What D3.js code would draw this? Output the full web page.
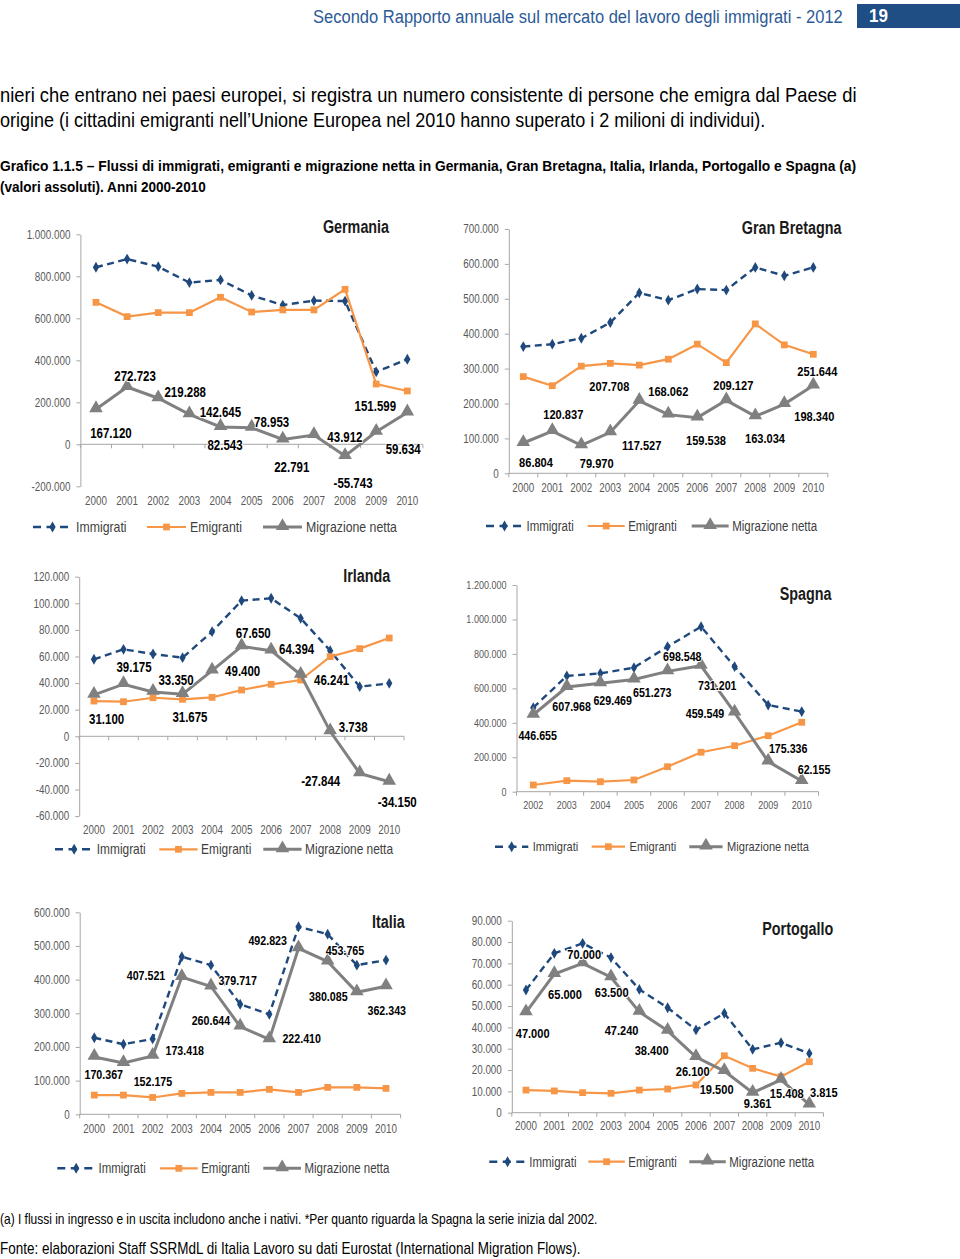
<!DOCTYPE html>
<html><head><meta charset="utf-8">
<script src="https://cdn.jsdelivr.net/npm/d3@7/dist/d3.min.js"></script>
<style>
html,body{margin:0;padding:0;background:#fff;}
svg{display:block;}
text{font-family:"Liberation Sans Narrow","Arial Narrow","Liberation Sans",Arial,sans-serif;}
</style></head>
<body><svg id="c" width="960" height="1259"></svg>
<script>
// ---------- DATA ----------
const years = ["2000","2001","2002","2003","2004","2005","2006","2007","2008","2009","2010"];
const yearsSpagna = ["2002","2003","2004","2005","2006","2007","2008","2009","2010"];
const seriesNames = ["Immigrati","Emigranti","Migrazione netta"];

const germaniaImmigrati = [843000,882000,846000,770000,783000,709000,663000,684000,682000,345000,405000];
const germaniaEmigranti = [676000,608000,627000,627000,700000,630000,640000,640000,738000,287000,254000];
const germaniaNetta = [167120,272723,219288,142645,82543,78953,22791,43912,-55743,59634,151599];
const germaniaTicks = [-200000,0,200000,400000,600000,800000,1000000];

const gbImmigrati = [363000,370000,387000,432000,517000,496000,528000,525000,590000,566000,590000];
const gbEmigranti = [277000,251000,307000,315000,310000,327000,370000,317000,428000,368000,341000];
const gbNetta = [86804,120837,79970,117527,207708,168062,159538,209127,163034,198340,251644];
const gbTicks = [0,100000,200000,300000,400000,500000,600000,700000];

const irlandaImmigrati = [57900,65400,61900,59100,78700,102000,103800,88700,64400,37300,39800];
const irlandaEmigranti = [26500,26000,29000,27800,29300,34800,39100,42300,59900,65900,73900];
const irlandaNetta = [31100,39175,33350,31675,49400,67650,64394,46241,3738,-27844,-34150];
const irlandaTicks = [-60000,-40000,-20000,0,20000,40000,60000,80000,100000,120000];

const spagnaImmigrati = [488000,672000,687000,720000,842000,958000,726000,503000,465000];
const spagnaEmigranti = [39000,64000,58000,68000,145000,229000,267000,325000,403000];
const spagnaNetta = [446655,607968,629469,651273,698548,731201,459549,175336,62155];
const spagnaTicks = [0,200000,400000,600000,800000,1000000,1200000];

const italiaImmigrati = [227500,208000,224000,468000,443000,327000,297000,557000,535000,443000,458000];
const italiaEmigranti = [57000,57000,50000,62000,65000,65000,74000,65000,80000,80000,77000];
const italiaNetta = [170367,152175,173418,407521,379717,260644,222410,492823,453765,362343,380085];
const italiaTicks = [0,100000,200000,300000,400000,500000,600000];

const portogalloImmigrati = [57500,74700,79400,72700,57800,49200,38800,46600,29700,32800,27800];
const portogalloEmigranti = [10600,10200,9400,9100,10600,11100,13000,26700,20800,16900,23900];
const portogalloNetta = [47000,65000,70000,63500,47240,38400,26100,19500,9361,15408,3815];
const portogalloTicks = [0,10000,20000,30000,40000,50000,60000,70000,80000,90000];

// ---------- STYLE / LAYOUT ----------
const colImm = "#1F497D", colEmi = "#F79646", colNet = "#808080";
const axisCol = "#A6A6A6", tickTextCol = "#595959", legendCol = "#404040";
const NARROW = 0.82;

const loc = d3.formatLocale({decimal:",", thousands:".", grouping:[3], currency:["","€"], minus:"-"});
const fmt = loc.format(",d");

const svg = d3.select("#c");

// page texts, fitted to a target width with a horizontal scale
function pageText(str, x, y, size, opts = {}) {
  const t = svg.append("text").attr("x", 0).attr("y", 0).attr("dy", "0.35em")
    .attr("font-size", size).attr("fill", opts.fill || "#000")
    .attr("font-weight", opts.weight || "normal").attr("class", "fitted").text(str);
  let sx = 1;
  if (opts.len) sx = opts.len / t.node().getComputedTextLength();
  t.attr("transform", `translate(${x},${y}) scale(${sx.toFixed(4)},1)`);
  return t;
}
pageText("Secondo Rapporto annuale sul mercato del lavoro degli immigrati - 2012", 313, 16, 19, {fill:"#2B5A96", len:530});
svg.append("rect").attr("x", 857).attr("y", 4).attr("width", 103).attr("height", 24).attr("fill", "#1F4E85");
pageText("19", 869, 16, 18, {fill:"#fff", weight:"bold", len:19});
pageText("nieri che entrano nei paesi europei, si registra un numero consistente di persone che emigra dal Paese di", 0, 95, 20, {len:857});
pageText("origine (i cittadini emigranti nell\u2019Unione Europea nel 2010 hanno superato i 2 milioni di individui).", 0, 120, 20, {len:766});
pageText("Grafico 1.1.5 \u2013 Flussi di immigrati, emigranti e migrazione netta in Germania, Gran Bretagna, Italia, Irlanda, Portogallo e Spagna (a)", 0, 166, 15, {weight:"bold", len:857});
pageText("(valori assoluti). Anni 2000-2010", 0, 187, 15, {weight:"bold", len:206});
pageText("(a) I flussi in ingresso e in uscita includono anche i nativi. *Per quanto riguarda la Spagna la serie inizia dal 2002.", 0, 1219, 14, {len:598});
pageText("Fonte: elaborazioni Staff SSRMdL di Italia Lavoro su dati Eurostat (International Migration Flows).", 0, 1248, 16, {len:581});

// panels
const panels = [
  {title:"Germania", cats:years, imm:germaniaImmigrati, emi:germaniaEmigranti, net:germaniaNetta, ticks:germaniaTicks,
   x0:80.4, x1:422.9, yB:486.3, yT:234.3, xLabY:501, tickFs:12, labFs:14, legFs:15,
   titleX:356, titleY:227,
   leg:{y:527, starts:[33,147,263], len:39, gap:4},
   off:[[15,23.5],[8,-11.3],[27,-6.5],[31,-2.6],[4.5,18],[20,-5.7],[9,27.5],[31,1.7],[8,27],[27,17],[-32,-6]]},
  {title:"Gran Bretagna", cats:years, imm:gbImmigrati, emi:gbEmigranti, net:gbNetta, ticks:gbTicks,
   x0:508.8, x1:827.8, yB:473.3, yT:229, xLabY:487.3, tickFs:12, labFs:13.5, legFs:14,
   titleX:791.7, titleY:228.3,
   leg:{y:526, starts:[486,587.7,691.7], len:37, gap:3.5},
   off:[[12.7,19.3],[11,-17],[15.4,18],[31.4,12.7],[-30,-15],[0,-23],[8.7,22.4],[7,-15.3],[9.7,22],[30,12.6],[4,-14.5]]},
  {title:"Irlanda", cats:years, imm:irlandaImmigrati, emi:irlandaEmigranti, net:irlandaNetta, ticks:irlandaTicks,
   x0:79.2, x1:404, yB:816.1, yT:576.7, xLabY:830, tickFs:12, labFs:14, legFs:14.5,
   titleX:366.7, titleY:576,
   leg:{y:849.3, starts:[55,159.3,263.3], len:38.3, gap:3.5},
   off:[[12.7,24.4],[10.5,-17.5],[23,-12],[7.4,22.5],[30.6,1],[11.6,-13.7],[25.5,-1.4],[31,5.2],[23,-4.6],[-39,7.4],[8,20.6]]},
  {title:"Spagna", cats:yearsSpagna, imm:spagnaImmigrati, emi:spagnaEmigranti, net:spagnaNetta, ticks:spagnaTicks,
   x0:516.5, x1:818.5, yB:791.7, yT:585, xLabY:805, tickFs:11, labFs:13, legFs:13.5,
   titleX:805.7, titleY:594,
   leg:{y:846.7, starts:[495,591.7,689.3], len:33.3, gap:4.5},
   off:[[4.4,21],[4.8,19.7],[12.3,17.4],[18.3,13.2],[14.8,-14.7],[16.2,19.5],[-29.6,1.4],[20,-13.2],[12.3,-12]]},
  {title:"Italia", cats:years, imm:italiaImmigrati, emi:italiaEmigranti, net:italiaNetta, ticks:italiaTicks,
   x0:79.7, x1:400.6, yB:1114.3, yT:912.3, xLabY:1128.3, tickFs:12, labFs:13, legFs:14,
   titleX:388.3, titleY:921.7,
   leg:{y:1168.3, starts:[57.3,160,263.3], len:37.7, gap:3.5},
   off:[[9.5,18],[29.5,18],[32.1,-5.9],[-35.8,-1.4],[26.7,-6.2],[-29.2,-6.5],[32.4,-1.1],[-30.8,-8.4],[17.3,-11.5],[29.9,18.4],[-57.7,9.7]]},
  {title:"Portogallo", cats:years, imm:portogalloImmigrati, emi:portogalloEmigranti, net:portogalloNetta, ticks:portogalloTicks,
   x0:511.8, x1:823.5, yB:1112.7, yT:920.7, xLabY:1125.7, tickFs:12, labFs:13.5, legFs:14,
   titleX:797.7, titleY:929,
   leg:{y:1161.7, starts:[489.3,588.3,689.3], len:36.5, gap:3.5},
   off:[[6.7,20.9],[10.7,20.2],[1.6,-9.1],[0.7,15.4],[-17.7,18.1],[-16,19.2],[-3.3,14.7],[-7.7,18.2],[5,10.8],[5.8,13.5],[14.5,-11.9]]}
];

const symDiamond = d3.symbol().type(d3.symbolDiamond).size(34);
const symSquare = d3.symbol().type(d3.symbolSquare).size(46);
const symTri = d3.symbol().type(d3.symbolTriangle).size(80);

function drawPanel(p) {
  const g = svg.append("g");
  const x = d3.scaleBand().domain(p.cats).range([p.x0, p.x1]);
  const y = d3.scaleLinear().domain(d3.extent(p.ticks)).range([p.yB, p.yT]);
  const cx = d => x(d) + x.bandwidth() / 2;

  // y axis
  const ay = g.append("g").attr("transform", `translate(${p.x0},0)`)
    .call(d3.axisLeft(y).tickValues(p.ticks).tickSize(4).tickSizeOuter(0).tickPadding(6).tickFormat(fmt));
  ay.select(".domain").attr("stroke", axisCol);
  ay.selectAll(".tick line").attr("stroke", axisCol);
  ay.selectAll(".tick text").attr("fill", tickTextCol).attr("font-size", p.tickFs)
    .attr("font-family", '"Liberation Sans Narrow","Arial Narrow","Liberation Sans",Arial,sans-serif');

  // x axis at zero
  const y0 = y(0);
  g.append("line").attr("x1", p.x0).attr("x2", p.x1).attr("y1", y0).attr("y2", y0).attr("stroke", axisCol);
  const bounds = p.cats.map(d => x(d)).concat([x(p.cats[p.cats.length - 1]) + x.step()]);
  g.selectAll(".xt").data(bounds).join("line")
    .attr("x1", d => d).attr("x2", d => d).attr("y1", y0).attr("y2", y0 + 4).attr("stroke", axisCol);
  g.selectAll(".xl").data(p.cats).join("text")
    .attr("x", d => cx(d)).attr("y", p.xLabY).attr("dy", "0.35em").attr("text-anchor", "middle")
    .attr("font-size", p.tickFs).attr("fill", tickTextCol).text(d => d);

  // series
  const mk = arr => p.cats.map((c, i) => ({c, v: arr[i], i}));
  const line = d3.line().x(d => cx(d.c)).y(d => y(d.v));
  const dImm = mk(p.imm), dEmi = mk(p.emi), dNet = mk(p.net);

  g.append("path").datum(dImm).attr("d", line).attr("fill", "none").attr("stroke", colImm)
    .attr("stroke-width", 2.4).attr("stroke-dasharray", "7,4.5");
  g.selectAll(".mi").data(dImm).join("path").attr("d", symDiamond)
    .attr("transform", d => `translate(${cx(d.c)},${y(d.v)})`).attr("fill", colImm);

  g.append("path").datum(dEmi).attr("d", line).attr("fill", "none").attr("stroke", colEmi).attr("stroke-width", 2.2);
  g.selectAll(".me").data(dEmi).join("path").attr("d", symSquare)
    .attr("transform", d => `translate(${cx(d.c)},${y(d.v)})`).attr("fill", colEmi);

  g.append("path").datum(dNet).attr("d", line).attr("fill", "none").attr("stroke", colNet).attr("stroke-width", 3);
  g.selectAll(".mn").data(dNet).join("path").attr("d", symTri)
    .attr("transform", d => `translate(${cx(d.c)},${y(d.v) - 1})`).attr("fill", colNet);

  // data labels
  g.selectAll(".lab").data(dNet).join("text")
    .attr("x", d => cx(d.c) + p.off[d.i][0]).attr("y", d => y(d.v) + p.off[d.i][1]).attr("dy", "0.35em")
    .attr("text-anchor", "middle").attr("font-size", p.labFs).attr("font-weight", "bold").attr("fill", "#000")
    .attr("stroke", "#fff").attr("stroke-width", 2).attr("paint-order", "stroke").attr("stroke-linejoin", "round")
    .text(d => fmt(d.v));

  // title
  g.append("text").attr("x", p.titleX).attr("y", p.titleY).attr("dy", "0.35em").attr("text-anchor", "middle")
    .attr("font-size", 17.5).attr("font-weight", "bold").attr("fill", "#1a1a1a").text(p.title);

  // legend
  const L = p.leg;
  seriesNames.forEach((name, k) => {
    const sx = L.starts[k], mid = sx + L.len / 2;
    const ln = g.append("line").attr("x1", sx).attr("x2", sx + L.len).attr("y1", L.y).attr("y2", L.y);
    let sym;
    if (k === 0) { ln.attr("stroke", colImm).attr("stroke-width", 2.4).attr("stroke-dasharray", "8,5.5"); sym = symDiamond; }
    else if (k === 1) { ln.attr("stroke", colEmi).attr("stroke-width", 2.2); sym = symSquare; }
    else { ln.attr("stroke", colNet).attr("stroke-width", 3); sym = symTri; }
    g.append("path").attr("d", sym).attr("transform", `translate(${mid},${L.y - (k === 2 ? 1 : 0)})`)
      .attr("fill", k === 0 ? colImm : k === 1 ? colEmi : colNet);
    g.append("text").attr("x", sx + L.len + L.gap).attr("y", L.y).attr("dy", "0.35em")
      .attr("font-size", p.legFs).attr("fill", legendCol).text(name);
  });
}
panels.forEach(drawPanel);

// emulate a narrow (condensed) face when it is not installed
const probe = svg.append("text").attr("font-size", 100).text("0000000000");
const probeW = probe.node().getComputedTextLength();
probe.remove();
const squeeze = probeW > 500 ? NARROW : 1; // Arial-metric digits are 55.6 per 100px
svg.selectAll("text:not(.fitted)").each(function () {
  if (squeeze === 1) return;
  const w = this.getComputedTextLength();
  this.setAttribute("textLength", (w * squeeze).toFixed(2));
  this.setAttribute("lengthAdjust", "spacingAndGlyphs");
});
</script>
</body></html>
